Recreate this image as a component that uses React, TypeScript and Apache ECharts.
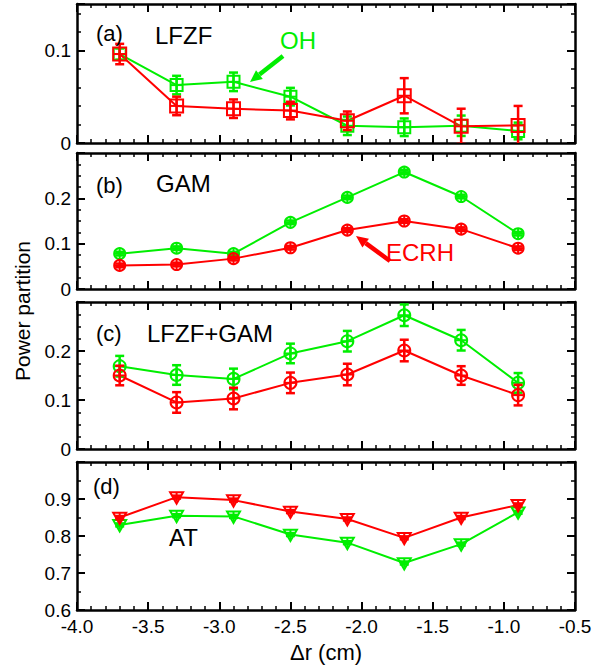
import React, { useEffect, useRef } from "react";
import * as echarts from "echarts";

// Radial positions of the measurement points (cm)
const dr = [-3.7, -3.3, -2.9, -2.5, -2.1, -1.7, -1.3, -0.9];

// (a) LFZF power partition
const lfzfOH = [0.096, 0.0625, 0.066, 0.05, 0.0186, 0.017, 0.0186, 0.013];
const lfzfOHErr = [0.006, 0.01, 0.01, 0.0095, 0.01, 0.0095, 0.011, 0.009];
const lfzfECRH = [0.096, 0.04, 0.037, 0.035, 0.024, 0.051, 0.018, 0.019];
const lfzfECRHErr = [0.011, 0.01, 0.01, 0.0095, 0.01, 0.019, 0.019, 0.021];

// (b) GAM power partition
const gamOH = [0.078, 0.09, 0.078, 0.147, 0.202, 0.258, 0.204, 0.122];
const gamOHErr = [0.004, 0.004, 0.004, 0.004, 0.004, 0.005, 0.004, 0.004];
const gamECRH = [0.052, 0.054, 0.067, 0.091, 0.13, 0.15, 0.132, 0.09];
const gamECRHErr = [0.004, 0.004, 0.004, 0.004, 0.004, 0.004, 0.004, 0.004];

// (c) LFZF+GAM power partition
const sumOH = [0.169, 0.151, 0.143, 0.195, 0.22, 0.273, 0.222, 0.135];
const sumOHErr = [0.021, 0.02, 0.021, 0.02, 0.021, 0.022, 0.021, 0.02];
const sumECRH = [0.15, 0.095, 0.103, 0.135, 0.152, 0.201, 0.15, 0.11];
const sumECRHErr = [0.02, 0.021, 0.022, 0.021, 0.022, 0.022, 0.019, 0.021];

// (d) AT power partition
const atOH = [0.83, 0.855, 0.853, 0.804, 0.782, 0.727, 0.778, 0.864];
const atOHErr = [0.004, 0.004, 0.004, 0.004, 0.004, 0.004, 0.004, 0.004];
const atECRH = [0.85, 0.905, 0.897, 0.866, 0.846, 0.795, 0.85, 0.884];
const atECRHErr = [0.004, 0.004, 0.004, 0.004, 0.004, 0.004, 0.004, 0.004];

// Axis settings per panel
const yMin = [0, 0, 0, 0.6];
const yMax = [0.15, 0.3, 0.3, 1.0];
const yInterval = [0.1, 0.1, 0.1, 0.1];
const yMinorSplit = [5, 4, 4, 2];
const xMin = -4.0;
const xMax = -0.5;
const xInterval = 0.5;

const GREEN = "#00ee00";
const RED = "#ff0000";
const FONT = "'Liberation Sans', Arial, Helvetica, sans-serif";

const grids = [
  { left: 77, right: 21, top: 4, height: 139 },
  { left: 77, right: 21, top: 153, height: 136 },
  { left: 77, right: 21, top: 302, height: 147 },
  { left: 77, right: 21, top: 462, height: 148 },
];

type Shape = "square" | "circle" | "triangle";

function markerRenderer(shape: Shape, color: string, half: number) {
  return (_params: any, api: any) => {
    const x = api.value(0);
    const y = api.value(1);
    const e = api.value(2);
    const c = api.coord([x, y]);
    const hi = api.coord([x, y + e]);
    const lo = api.coord([x, y - e]);
    const cap = 4.5;
    const barStyle = { stroke: color, lineWidth: 2.5, fill: "none" };
    const thin = { stroke: color, lineWidth: 2, fill: "none" };
    const children: any[] = [
      { type: "line", shape: { x1: c[0], y1: hi[1], x2: c[0], y2: lo[1] }, style: barStyle },
      { type: "line", shape: { x1: c[0] - cap, y1: hi[1], x2: c[0] + cap, y2: hi[1] }, style: barStyle },
      { type: "line", shape: { x1: c[0] - cap, y1: lo[1], x2: c[0] + cap, y2: lo[1] }, style: barStyle },
    ];
    if (shape === "square") {
      children.push({
        type: "rect",
        shape: { x: c[0] - half, y: c[1] - half, width: 2 * half, height: 2 * half },
        style: thin,
      });
      children.push({ type: "line", shape: { x1: c[0] - half, y1: c[1], x2: c[0] + half, y2: c[1] }, style: thin });
      children.push({ type: "line", shape: { x1: c[0], y1: c[1] - half, x2: c[0], y2: c[1] + half }, style: thin });
    } else if (shape === "circle") {
      children.push({ type: "circle", shape: { cx: c[0], cy: c[1], r: half }, style: thin });
      children.push({ type: "line", shape: { x1: c[0] - half, y1: c[1], x2: c[0] + half, y2: c[1] }, style: thin });
      children.push({ type: "line", shape: { x1: c[0], y1: c[1] - half, x2: c[0], y2: c[1] + half }, style: thin });
    } else {
      const top = c[1] - half * 0.75;
      children.push({
        type: "polygon",
        shape: { points: [[c[0] - half, top], [c[0] + half, top], [c[0], c[1] + half]] },
        style: thin,
      });
      children.push({ type: "line", shape: { x1: c[0] - half * 0.5, y1: c[1], x2: c[0] + half * 0.5, y2: c[1] }, style: thin });
      children.push({ type: "line", shape: { x1: c[0], y1: top, x2: c[0], y2: c[1] + half * 0.7 }, style: thin });
    }
    return { type: "group", children };
  };
}

function seriesPair(
  panel: number,
  values: number[],
  errs: number[],
  color: string,
  shape: Shape,
  half: number
) {
  const pts = dr.map((x, i) => [x, values[i]]);
  const bars = dr.map((x, i) => [x, values[i], errs[i]]);
  return [
    {
      type: "line",
      xAxisIndex: panel * 2,
      yAxisIndex: panel * 2,
      data: pts,
      showSymbol: false,
      symbol: "none",
      lineStyle: { color, width: 2 },
      z: 2,
    },
    {
      type: "custom",
      xAxisIndex: panel * 2,
      yAxisIndex: panel * 2,
      data: bars,
      clip: true,
      renderItem: markerRenderer(shape, color, half),
      z: 3,
    },
  ];
}

function fmtY(v: number) {
  return String(+v.toFixed(3));
}

function arrow(x1: number, y1: number, x2: number, y2: number, color: string) {
  const dx = x2 - x1;
  const dy = y2 - y1;
  const len = Math.sqrt(dx * dx + dy * dy);
  const ux = dx / len;
  const uy = dy / len;
  const headLen = 12;
  const headHalf = 5.5;
  const bx = x2 - ux * headLen;
  const by = y2 - uy * headLen;
  return [
    {
      type: "line",
      shape: { x1, y1, x2: bx, y2: by },
      style: { stroke: color, lineWidth: 4.5 },
    },
    {
      type: "polygon",
      shape: {
        points: [
          [x2, y2],
          [bx - uy * headHalf, by + ux * headHalf],
          [bx + uy * headHalf, by - ux * headHalf],
        ],
      },
      style: { fill: color },
    },
  ];
}

export default function App() {
  const ref = useRef<HTMLDivElement>(null);

  useEffect(() => {
    if (!ref.current) return;
    const chart = echarts.init(ref.current, undefined, { renderer: "svg" });

    const axisLine = { show: true, onZero: false, lineStyle: { color: "#000", width: 2.5 } };
    const axisTick = { show: true, inside: true, length: 8, lineStyle: { color: "#000", width: 2 } };
    const labelStyle = { color: "#000", fontSize: 19, fontFamily: FONT };

    const xAxes: any[] = [];
    const yAxes: any[] = [];
    for (let p = 0; p < 4; p++) {
      const common = {
        type: "value",
        gridIndex: p,
        min: xMin,
        max: xMax,
        interval: xInterval,
        axisLine,
        axisTick,
        minorTick: { show: true, splitNumber: 5, length: 4, lineStyle: { color: "#000", width: 1.5 } },
        splitLine: { show: false },
        minorSplitLine: { show: false },
      };
      xAxes.push({
        ...common,
        position: "bottom",
        axisLabel: {
          show: p === 3,
          margin: 7,
          formatter: (v: number) => v.toFixed(1),
          ...labelStyle,
        },
      });
      xAxes.push({ ...common, position: "top", axisLabel: { show: false } });

      const ycommon = {
        type: "value",
        gridIndex: p,
        min: yMin[p],
        max: yMax[p],
        interval: yInterval[p],
        axisLine,
        axisTick,
        minorTick: {
          show: true,
          splitNumber: yMinorSplit[p],
          length: 4,
          lineStyle: { color: "#000", width: 1.5 },
        },
        splitLine: { show: false },
        minorSplitLine: { show: false },
      };
      yAxes.push({
        ...ycommon,
        position: "left",
        axisLabel: {
          show: true,
          margin: 6,
          showMaxLabel: false,
          formatter: fmtY,
          ...labelStyle,
        },
      });
      yAxes.push({ ...ycommon, position: "right", axisLabel: { show: false } });
    }

    const series: any[] = [
      ...seriesPair(0, lfzfOH, lfzfOHErr, GREEN, "square", 6),
      ...seriesPair(0, lfzfECRH, lfzfECRHErr, RED, "square", 6.5),
      ...seriesPair(1, gamOH, gamOHErr, GREEN, "circle", 5.5),
      ...seriesPair(1, gamECRH, gamECRHErr, RED, "circle", 5.5),
      ...seriesPair(2, sumOH, sumOHErr, GREEN, "circle", 6),
      ...seriesPair(2, sumECRH, sumECRHErr, RED, "circle", 6),
      ...seriesPair(3, atOH, atOHErr, GREEN, "triangle", 6.5),
      ...seriesPair(3, atECRH, atECRHErr, RED, "triangle", 6.5),
    ];

    const txt = (x: number, y: number, text: string, fill = "#000", size = 24, align = "left") => ({
      type: "text",
      x,
      y,
      style: { text, fill, fontSize: size, fontFamily: FONT, textAlign: align, textVerticalAlign: "middle" },
      z: 10,
    });

    const graphic: any[] = [
      txt(96, 33, "(a)", "#000", 22),
      txt(155, 35, "LFZF"),
      txt(280, 40, "OH", GREEN),
      ...arrow(283, 56, 250, 82, GREEN),
      txt(96, 185, "(b)", "#000", 22),
      txt(156, 183, "GAM"),
      txt(386, 252, "ECRH", RED),
      ...arrow(390, 261, 356, 236, RED),
      txt(96, 333, "(c)", "#000", 22),
      txt(147, 333, "LFZF+GAM"),
      txt(93, 486, "(d)", "#000", 22),
      txt(169, 537, "AT"),
      txt(326, 652, "\u0394r (cm)", "#000", 22, "center"),
      {
        type: "text",
        x: 22,
        y: 311,
        rotation: Math.PI / 2,
        style: {
          text: "Power partition",
          fill: "#000",
          fontSize: 21,
          fontFamily: FONT,
          textAlign: "center",
          textVerticalAlign: "middle",
        },
      },
    ];

    chart.setOption({
      animation: false,
      backgroundColor: "#fff",
      grid: grids,
      xAxis: xAxes,
      yAxis: yAxes,
      series,
      graphic,
    });

    return () => chart.dispose();
  }, []);

  return (
    <div
      ref={ref}
      style={{ position: "absolute", left: 0, top: 0, width: 596, height: 669, background: "#fff" }}
    />
  );
}
